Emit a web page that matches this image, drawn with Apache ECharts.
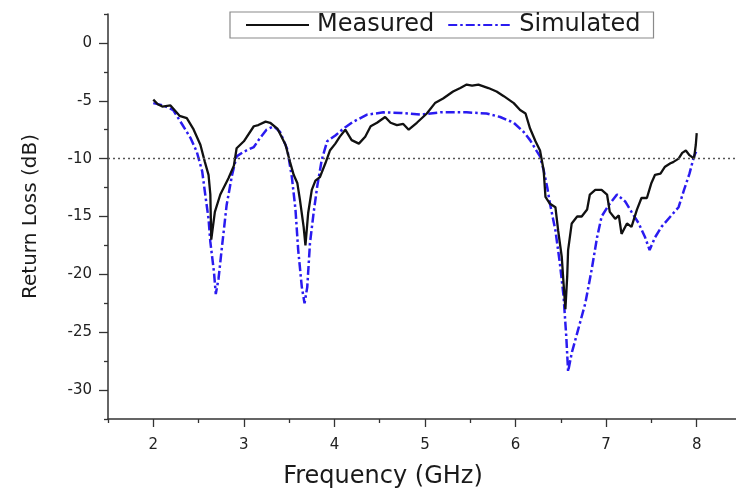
<!DOCTYPE html>
<html><head><meta charset="utf-8">
<script src="https://cdn.jsdelivr.net/npm/echarts@6/dist/echarts.min.js"></script>
<style>html,body{margin:0;padding:0;background:#fff}#c{width:736px;height:488px}</style>
</head><body><div id="c"></div>
<script>
var measuredFreq = [2.0,2.05,2.1,2.19,2.29,2.37,2.44,2.52,2.57,2.61,2.63,2.64,2.68,2.74,2.83,2.89,2.92,3.0,3.11,3.16,3.24,3.29,3.37,3.46,3.51,3.55,3.59,3.62,3.66,3.68,3.71,3.75,3.79,3.84,3.9,3.95,4.01,4.06,4.12,4.19,4.27,4.34,4.4,4.47,4.56,4.62,4.69,4.76,4.82,4.91,5.02,5.11,5.2,5.31,5.39,5.46,5.52,5.59,5.7,5.79,5.87,5.98,6.05,6.11,6.16,6.22,6.27,6.31,6.33,6.38,6.44,6.47,6.51,6.53,6.55,6.57,6.58,6.62,6.68,6.73,6.79,6.82,6.88,6.95,7.01,7.04,7.1,7.14,7.17,7.23,7.28,7.34,7.39,7.45,7.5,7.54,7.6,7.65,7.71,7.74,7.8,7.84,7.88,7.92,7.97,7.99,8.0];
var measuredLoss = [-4.9,-5.3,-5.5,-5.4,-6.3,-6.5,-7.4,-8.8,-10.3,-11.4,-13.1,-17.0,-14.6,-13.1,-11.7,-10.6,-9.1,-8.5,-7.2,-7.1,-6.8,-6.9,-7.4,-8.8,-10.3,-11.4,-12.1,-13.6,-15.9,-17.5,-14.7,-12.7,-11.9,-11.6,-10.4,-9.3,-8.7,-8.1,-7.5,-8.4,-8.7,-8.1,-7.2,-6.9,-6.4,-6.9,-7.1,-7.0,-7.5,-6.9,-6.1,-5.2,-4.8,-4.2,-3.9,-3.6,-3.7,-3.6,-3.9,-4.2,-4.6,-5.2,-5.8,-6.1,-7.4,-8.5,-9.3,-11.0,-13.3,-13.9,-14.2,-16.2,-18.5,-20.8,-23.0,-20.2,-17.9,-15.6,-15.0,-15.0,-14.4,-13.1,-12.7,-12.7,-13.1,-14.6,-15.2,-14.9,-16.5,-15.6,-15.9,-14.4,-13.4,-13.4,-12.1,-11.4,-11.3,-10.7,-10.4,-10.3,-10.0,-9.5,-9.3,-9.7,-10.0,-8.8,-7.8];
var simulatedFreq = [2.0,2.11,2.22,2.3,2.41,2.48,2.54,2.57,2.61,2.63,2.67,2.69,2.72,2.76,2.81,2.87,2.92,3.0,3.11,3.18,3.25,3.33,3.4,3.48,3.53,3.57,3.6,3.64,3.67,3.7,3.73,3.77,3.81,3.86,3.92,4.01,4.1,4.21,4.36,4.54,4.73,4.95,5.17,5.46,5.68,5.83,5.98,6.09,6.16,6.23,6.27,6.31,6.35,6.38,6.44,6.49,6.53,6.56,6.58,6.62,6.69,6.77,6.84,6.9,6.95,7.03,7.12,7.21,7.28,7.36,7.43,7.48,7.54,7.61,7.71,7.8,7.86,7.92,7.97,8.0];
var simulatedLoss = [-5.2,-5.4,-5.8,-6.8,-8.2,-9.4,-11.1,-12.9,-15.2,-17.2,-19.8,-21.7,-20.4,-17.5,-14.0,-11.4,-9.8,-9.4,-9.0,-8.2,-7.5,-7.2,-7.7,-9.2,-11.6,-14.4,-17.9,-21.1,-22.5,-21.1,-17.3,-14.7,-12.4,-10.1,-8.5,-8.0,-7.4,-6.8,-6.2,-6.0,-6.05,-6.2,-6.0,-6.0,-6.1,-6.4,-6.9,-7.7,-8.4,-9.3,-9.8,-11.0,-12.5,-13.9,-16.2,-19.1,-21.9,-25.4,-28.4,-26.8,-24.8,-22.5,-19.6,-16.8,-15.0,-14.0,-13.1,-13.7,-14.6,-15.6,-16.8,-17.9,-16.8,-15.9,-15.0,-14.2,-12.7,-11.3,-9.8,-9.3];
var thresholdLevel = -10;
var seriesNames = ['Measured', 'Simulated'];
var xMajorTicks = [2, 3, 4, 5, 6, 7, 8];
var xMinorTicks = [1.5, 2.5, 3.5, 4.5, 5.5, 6.5, 7.5, 8.5];
var yMajorTicks = [-30, -25, -20, -15, -10, -5, 0];
var yMinorTicks = [-32.5, -27.5, -22.5, -17.5, -12.5, -7.5, -2.5, 2.5];

function pairs(xs, ys) { return xs.map(function (x, i) { return [x, ys[i]]; }); }

var FONT = 'DejaVu Sans, Liberation Sans, Arial, sans-serif';
var AX = '#333';
function xAxisCfg(major) {
  return {
    type: 'value', min: 1.5, max: 8.5, interval: 0.5, gridIndex: 0, position: 'bottom', offset: 0,
    name: major ? 'Frequency (GHz)' : '', nameLocation: 'middle', nameGap: 46,
    nameTextStyle: { fontFamily: FONT, fontSize: 24, color: '#1a1a1a', padding: [0, 84, 0, 0] },
    axisLine: { show: major, onZero: false, lineStyle: { color: AX, width: 1.5 } },
    axisTick: { show: true, inside: false, length: major ? 8 : 4, customValues: major ? xMajorTicks : xMinorTicks, lineStyle: { color: AX, width: 1.3 } },
    axisLabel: { show: major, margin: 19, fontFamily: FONT, fontSize: 15, color: '#222', customValues: xMajorTicks },
    splitLine: { show: false }
  };
}
function yAxisCfg(major) {
  return {
    type: 'value', min: -32.5, max: 2.5, interval: 2.5, gridIndex: 0, position: 'left', offset: 0,
    name: major ? 'Return Loss (dB)' : '', nameLocation: 'middle', nameGap: 67,
    nameTextStyle: { fontFamily: FONT, fontSize: 20, color: '#1a1a1a' },
    axisLine: { show: major, onZero: false, lineStyle: { color: AX, width: 1.5 } },
    axisTick: { show: true, inside: false, length: major ? 9 : 4, customValues: major ? yMajorTicks : yMinorTicks, lineStyle: { color: AX, width: 1.3 } },
    axisLabel: { show: major, margin: 16, fontFamily: FONT, fontSize: 15, color: '#222', customValues: yMajorTicks },
    splitLine: { show: false }
  };
}

var chart = echarts.init(document.getElementById('c'));
chart.setOption({
  animation: false,
  backgroundColor: '#ffffff',
  grid: { left: 108, right: -6, top: 14, bottom: 69, containLabel: false, outerBoundsMode: 'none' },
  legend: {
    data: [seriesNames[0], seriesNames[1]],
    left: 230, top: 12,
    itemWidth: 63, itemHeight: 12, itemGap: 13,
    padding: [1, 13, 1, 15],
    borderColor: '#8a8a8a', borderWidth: 1.2,
    itemStyle: { opacity: 0 },
    textStyle: { fontFamily: FONT, fontSize: 24, color: '#1a1a1a', padding: [0, 0, 0, 3] }
  },
  xAxis: [xAxisCfg(true), xAxisCfg(false)],
  yAxis: [yAxisCfg(true), yAxisCfg(false)],
  series: [
    {
      name: seriesNames[0], type: 'line', symbol: 'none', smooth: false,
      xAxisIndex: 0, yAxisIndex: 0,
      data: pairs(measuredFreq, measuredLoss),
      lineStyle: { color: '#111111', width: 2.3 },
      itemStyle: { color: '#111111' },
      markLine: {
        silent: true, symbol: 'none', label: { show: false },
        lineStyle: { color: '#555', type: [2, 3], width: 1.3 },
        data: [{ yAxis: thresholdLevel }]
      },
      z: 3
    },
    {
      name: seriesNames[1], type: 'line', symbol: 'none', smooth: false,
      xAxisIndex: 0, yAxisIndex: 0,
      data: pairs(simulatedFreq, simulatedLoss),
      lineStyle: { color: '#2a1bf0', width: 2.5, type: [9, 3, 2.5, 3] },
      itemStyle: { color: '#2a1bf0' },
      z: 2
    }
  ]
});
</script></body></html>
